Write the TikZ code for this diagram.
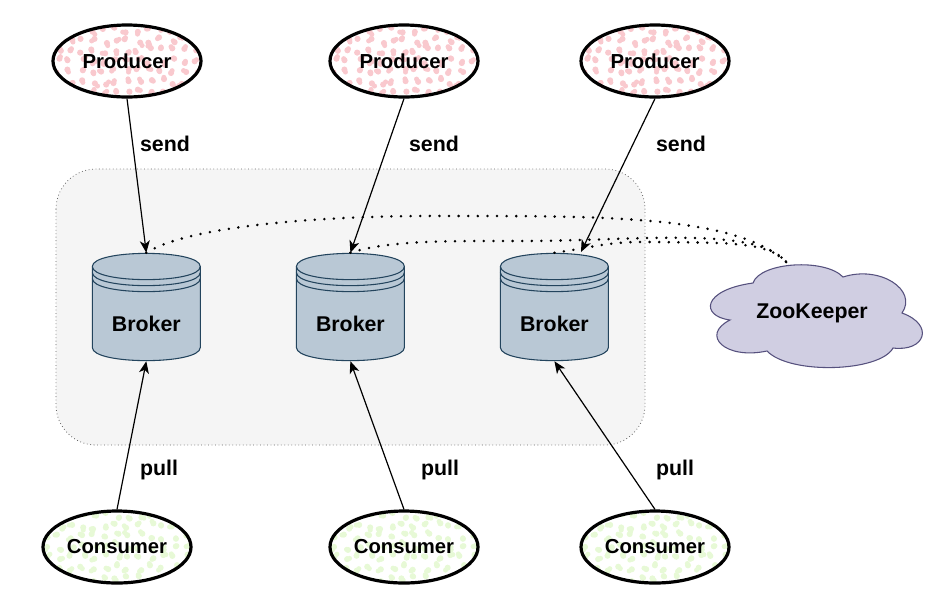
\documentclass[tikz,border=0pt]{standalone}
\usepackage{fontspec}
\setmainfont{Liberation Sans}
\usetikzlibrary{arrows.meta,calc,shapes.geometric}
\definecolor{pinkdot}{HTML}{F9C9CE}
\definecolor{greendot}{HTML}{E7F9D6}
\definecolor{panelfill}{HTML}{F5F5F5}
\definecolor{panelline}{HTML}{666666}
\definecolor{brokerfill}{HTML}{B9C8D5}
\definecolor{brokerline}{HTML}{23445D}
\definecolor{cloudfill}{HTML}{D0CEE2}
\definecolor{cloudline}{HTML}{56517E}
\tikzset{
  lab/.style={font=\fontsize{16}{18}\selectfont\bfseries,inner sep=0pt},
  blobnode/.style={ellipse,draw=black,line width=2.4pt,minimum width=111pt,minimum height=54pt,inner sep=0pt,
    font=\fontsize{15.2}{18}\selectfont\bfseries,
    path picture={
      \pgfmathsetseed{#1}
      \foreach \gx in {-6,...,6}{\foreach \gy in {-3,...,3}{
        \pgfmathsetmacro{\jx}{\gx*8.6+rand*2.2}
        \pgfmathsetmacro{\jy}{\gy*7.8+rand*2.2}
        \pgfmathsetmacro{\kx}{\jx+rand*2.2}
        \pgfmathsetmacro{\ky}{\jy+rand*2.2}
        \fill[blobcolor] ($(path picture bounding box.center)+(\jx pt,\jy pt)$) circle[radius=2.3pt];
        \fill[blobcolor] ($(path picture bounding box.center)+(\kx pt,\ky pt)$) circle[radius=1.9pt];
      }}
    }},
  producer/.style={blobnode=11,blobcolor/.style={pinkdot}},
  consumer/.style={blobnode=23,blobcolor/.style={greendot}},
  brokerbox/.style={minimum width=81pt,minimum height=81pt,inner sep=0pt,
    label={[lab,yshift=-12.75pt]center:Broker}},
  cylshape/.style={fill=brokerfill,draw=brokerline,line width=0.8pt,line join=round},
  cylline/.style={draw=brokerline,line width=0.8pt},
  flow/.style={line width=0.9pt,-{Stealth[length=9pt,width=7.5pt,inset=2.5pt]}},
  zklink/.style={line width=2.1pt,line cap=round,dash pattern=on 0pt off 7.2pt},
  panel/.style={fill=panelfill,draw=panelline,line width=0.6pt,dotted,rounded corners=30pt},
}
\newcommand{\cylinderat}[1]{%
  \begin{scope}[shift={(#1,307)}]
    \path[cylshape] (-54,-40.5) .. controls (-54,-58) and (54,-58) .. (54,-40.5) -- (54,40.5)
      .. controls (54,58) and (-54,58) .. (-54,40.5) -- cycle;
    \foreach \yy in {-40.5,-34.5,-28.5}{
      \path[cylline] (-54,\yy) .. controls (-54,\yy+17.5) and (54,\yy+17.5) .. (54,\yy);
    }
  \end{scope}}
\begin{document}
\begin{tikzpicture}[x=0.75pt,y=-0.75pt]
\useasboundingbox (0,0) rectangle (927,601);
\path[panel] (56,169) rectangle (645,445);

\cylinderat{146.3}
\cylinderat{350.4}
\cylinderat{554.4}
\node[brokerbox] (b1) at (146.3,307) {};
\node[brokerbox] (b2) at (350.4,307) {};
\node[brokerbox] (b3) at (554.4,307) {};
\coordinate (b3in) at (581,252);

\path[fill=cloudfill,draw=cloudline,line width=0.8pt]
  (730,320) .. controls (700,316) and (702,290) .. (753,283)
  .. controls (760,262) and (825,258) .. (843,277)
  .. controls (880,265) and (918,290) .. (902,313)
  .. controls (935,325) and (925,352) .. (893,348)
  .. controls (880,372) and (790,375) .. (767,351)
  .. controls (725,360) and (700,335) .. (730,320) -- cycle;
\node[lab] (zk) at (812,313.5) {ZooKeeper};
\coordinate (zka) at (788,264);

\draw[zklink] (b1.north) .. controls (190,225) and (330,215) .. (450,216)
  .. controls (600,216) and (740,215) .. (zka);
\draw[zklink] (b2.north) .. controls (390,240) and (450,241) .. (520,241)
  .. controls (640,241) and (760,225) .. (zka);
\draw[zklink] (b3.north) .. controls (590,248) and (610,241) .. (650,242)
  .. controls (720,243) and (770,240) .. (zka);

\node[producer] (p1) at (127,61) {Producer};
\node[producer] (p2) at (404,61) {Producer};
\node[producer] (p3) at (655,61) {Producer};
\node[consumer] (c1) at (117,547) {Consumer};
\node[consumer] (c2) at (404,547) {Consumer};
\node[consumer] (c3) at (655,547) {Consumer};

\draw[flow] (p1.south) -- (b1.north);
\draw[flow] (p2.south) -- (b2.north);
\draw[flow] (p3.south) -- (b3in);
\draw[flow] (c1.north) -- (b1.south);
\draw[flow] (c2.north) -- (b2.south);
\draw[flow] (c3.north) -- (b3.south);

\node[lab] (s1) at (165,144) {send};
\node[lab] (s2) at (434,144) {send};
\node[lab] (s3) at (681,144) {send};
\node[lab] (u1) at (159,469.5) {pull};
\node[lab] (u2) at (440,469.5) {pull};
\node[lab] (u3) at (675,469.5) {pull};
\end{tikzpicture}
\end{document}
